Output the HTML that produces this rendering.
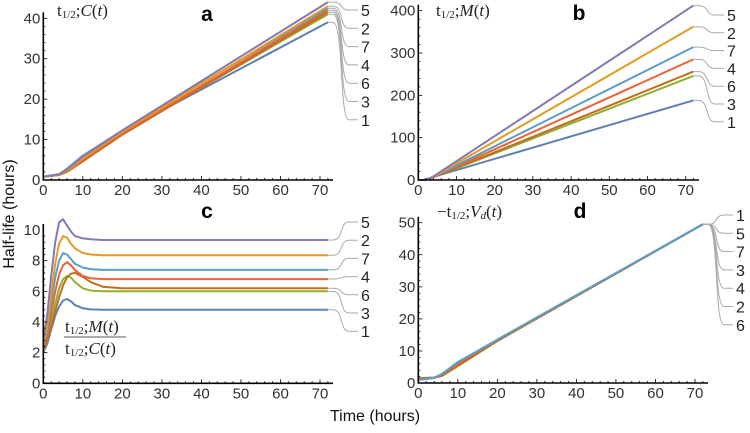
<!DOCTYPE html>
<html><head><meta charset="utf-8">
<style>
body{margin:0;background:#fff;}
svg text{font-family:"Liberation Sans",sans-serif;}
svg text.serif{font-family:"Liberation Serif",serif;}
</style></head>
<body>
<svg id="chart" width="750" height="428" viewBox="0 0 750 428" xmlns="http://www.w3.org/2000/svg">
<text x="0" y="0" transform="translate(14,214) rotate(-90)" text-anchor="middle" font-size="16" fill="#111">Half-life (hours)</text>
<text x="375" y="421" text-anchor="middle" font-size="16" fill="#111">Time (hours)</text>
</svg>
<script>
const seriesNames = ["1","2","3","4","5","6","7"];
const seriesColors = ["#5E81B5","#E19C24","#8FB032","#EB6235","#8778B3","#C56E1A","#5D9EC7"];

const timesA = [0,4,6,10,20,72];
const valuesA = {
 "1":[0.8,1.4,2.8,6.0,12.0,39],
 "2":[0.8,1.3,2.3,5.3,11.9,43],
 "3":[0.8,1.3,2.4,5.4,11.6,41],
 "4":[0.8,1.3,2.2,5.0,11.5,42],
 "5":[0.8,1.4,2.6,5.8,12.3,44],
 "6":[0.8,1.2,2.0,4.6,11.2,41.5],
 "7":[0.8,1.4,2.7,6.0,12.3,42.5]
};
const labelOrderA = ["5","2","7","4","6","3","1"];

const timesB = [0,1.5,3,72];
const valuesB = {
 "1":[0,0,5,188],
 "2":[0,0,3,362],
 "3":[0,0,3,246],
 "4":[0,0,3,285],
 "5":[0,0,3,412],
 "6":[0,0,3,256],
 "7":[0,0,3,314]
};
const labelOrderB = ["5","2","7","4","6","3","1"];

const timesC = [0,1,2,3,4,5,6,7,8,10,12,15,20,72];
const valuesC = {
 "1":[2.0,2.6,3.5,4.4,5.0,5.4,5.5,5.35,5.1,4.9,4.82,4.8,4.8,4.8],
 "2":[2.5,3.8,5.8,7.8,9.1,9.6,9.5,9.1,8.8,8.5,8.4,8.35,8.35,8.35],
 "3":[2.1,2.9,4.0,5.2,6.2,6.8,7.0,6.9,6.6,6.2,6.05,6.0,6.0,6.0],
 "4":[2.3,3.2,4.6,6.0,7.1,7.7,7.9,7.7,7.4,7.0,6.85,6.8,6.8,6.8],
 "5":[2.8,4.5,7.0,9.2,10.5,10.7,10.3,9.9,9.6,9.45,9.4,9.35,9.35,9.35],
 "6":[2.2,2.8,3.7,4.7,5.6,6.4,6.9,7.15,7.2,6.95,6.6,6.3,6.2,6.2],
 "7":[2.4,3.5,5.2,6.9,8.0,8.5,8.4,8.1,7.8,7.55,7.45,7.4,7.4,7.4]
};
const labelOrderC = ["5","2","7","4","6","3","1"];

const timesD = [0,4,6,10,20,72];
const valuesD = {
 "1":[1.0,1.6,2.8,6.5,13.5,49.5],
 "2":[1.3,1.6,2.3,5.6,13.2,49.5],
 "3":[1.0,1.6,2.8,6.4,13.5,49.5],
 "4":[1.2,1.6,2.4,5.8,13.3,49.5],
 "5":[1.0,1.6,2.8,6.5,13.5,49.5],
 "6":[1.5,1.7,2.2,5.3,13.1,49.5],
 "7":[1.0,1.6,2.8,6.5,13.5,49.5]
};
const labelOrderD = ["1","5","7","3","4","2","6"];
const drawOrderD = ["5","2","3","4","6","1","7"];

const xTicks = [0,10,20,30,40,50,60,70];
const yTicksA = [0,10,20,30,40];
const yTicksB = [0,100,200,300,400];
const yTicksC = [0,2,4,6,8,10];
const yTicksD = [0,10,20,30,40,50];

const NS = "http://www.w3.org/2000/svg";
const svg = document.getElementById("chart");
function mk(tag, attrs, parent){
  const e = document.createElementNS(NS, tag);
  for (const k in attrs) e.setAttribute(k, attrs[k]);
  (parent||svg).appendChild(e);
  return e;
}

function panel(id, cfg){
  const g = mk("g", {});
  
  
  const xs = t => cfg.x0 + (t/70)*(cfg.x70 - cfg.x0);
  const ys = v => cfg.yb - (v/cfg.yMax)*(cfg.yb - cfg.yTop);
  const order = cfg.drawOrder || ["1","3","6","4","7","2","5"];
  order.forEach(name => {
    const idx = seriesNames.indexOf(name);
    const vals = cfg.values[name];
    let d = "";
    cfg.times.forEach((t,i) => { d += (i?"L":"M") + xs(t).toFixed(1) + "," + ys(vals[i]).toFixed(1); });
    const p = mk("path", {d:d, fill:"none", stroke:seriesColors[idx], "stroke-width":2, "stroke-linejoin":"round"}, g);
    
    
  });
  cfg.labelOrder.forEach((name,i) => {
    const vals = cfg.values[name];
    const ex = xs(72), ey = ys(vals[vals.length-1]);
    const ly = cfg.labelY0 + i*cfg.labelDy;
    const lx = cfg.labelX;
    const c = mk("path", {d:`M${ex},${ey} L${ex+5},${ey} C${ex+16},${ey} ${lx-22},${ly} ${lx-12},${ly} L${lx-3},${ly}`, fill:"none", stroke:"#aaa", "stroke-width":1}, g);
    
    
    const t = mk("text", {x:lx, y:ly+6, "font-size":16, fill:"#222"}, g);
    
    
    t.textContent = name;
  });
  const ax = mk("path", {d:`M${cfg.x0},${cfg.yTop-6} L${cfg.x0},${cfg.yb} L${cfg.xEnd},${cfg.yb}`, fill:"none", stroke:"#000", "stroke-width":1.6}, g);
  
  
  for (let t=0;t<=72;t+=2){
    const major = t%10===0;
    mk("line",{x1:xs(t),x2:xs(t),y1:cfg.yb,y2:cfg.yb-(major?4:2),stroke:"#000","stroke-width":0.8},g);
  }
  xTicks.forEach(t => {
    const tx = mk("text",{x:xs(t),y:cfg.yb+15,"text-anchor":"middle","font-size":15,fill:"#333"},g);
    
    
    tx.textContent = t;
  });
  const step = cfg.yTicks[1]-cfg.yTicks[0];
  for (let v=0; v<=cfg.yMax; v+=step/5){
    const major = Math.abs(v/step - Math.round(v/step))<1e-6;
    mk("line",{x1:cfg.x0,x2:cfg.x0+(major?4:2),y1:ys(v),y2:ys(v),stroke:"#000","stroke-width":0.8},g);
  }
  cfg.yTicks.forEach(v => {
    const ty = mk("text",{x:cfg.x0-3,y:ys(v)+5,"text-anchor":"end","font-size":15,fill:"#333"},g);
    
    
    ty.textContent = v;
  });
  const L = mk("text",{x:cfg.letterX,y:cfg.letterY,"text-anchor":"middle","font-size":21,"font-weight":"bold",fill:"#000"},g);
  
  
  L.textContent = id;
}

panel("a",{x0:43.3,x70:320,xEnd:333,yb:180,yTop:18.3,yMax:40,times:timesA,values:valuesA,labelOrder:labelOrderA,labelX:361,labelY0:10,labelDy:18.3,yTicks:yTicksA,letterX:207,letterY:21});
panel("b",{x0:418.3,x70:685.7,xEnd:699,yb:180,yTop:10.7,yMax:400,times:timesB,values:valuesB,labelOrder:labelOrderB,labelX:727,labelY0:15,labelDy:17.8,yTicks:yTicksB,letterX:579,letterY:20});
panel("c",{x0:43.3,x70:320,xEnd:333,yb:383.3,yTop:230,yMax:10,times:timesC,values:valuesC,labelOrder:labelOrderC,labelX:361,labelY0:222,labelDy:18.2,yTicks:yTicksC,letterX:207,letterY:218});
panel("d",{x0:418.3,x70:695,xEnd:708,yb:383,yTop:222.7,yMax:50,times:timesD,values:valuesD,labelOrder:labelOrderD,labelX:736,labelY0:215,labelDy:18.3,yTicks:yTicksD,letterX:580,letterY:218,drawOrder:drawOrderD});

function ann(name, x, y, html){
  const t = mk("text",{x:x,y:y,"font-size":17,fill:"#222","class":"serif"});
  
  
  t.innerHTML = html;
  return t;
}
const sub = '<tspan font-size="11" dy="2">1/2</tspan><tspan dy="-2">;</tspan>';
ann("annotation-a", 57, 16, 't'+sub+'<tspan font-style="italic">C</tspan>(<tspan font-style="italic">t</tspan>)');
ann("annotation-b", 436, 16, 't'+sub+'<tspan font-style="italic">M</tspan>(<tspan font-style="italic">t</tspan>)');
ann("annotation-d", 437, 217, '−t'+sub+'<tspan font-style="italic">V</tspan><tspan font-size="11" font-style="italic" dy="2">d</tspan><tspan dy="-2">(</tspan><tspan font-style="italic">t</tspan>)');
ann("annotation-c-numerator", 65, 332, 't'+sub+'<tspan font-style="italic">M</tspan>(<tspan font-style="italic">t</tspan>)');
const fl = mk("line",{x1:64,x2:126,y1:337,y2:337,stroke:"#222","stroke-width":0.8});


ann("annotation-c-denominator", 65, 354, 't'+sub+'<tspan font-style="italic">C</tspan>(<tspan font-style="italic">t</tspan>)');
</script>
</body></html>
